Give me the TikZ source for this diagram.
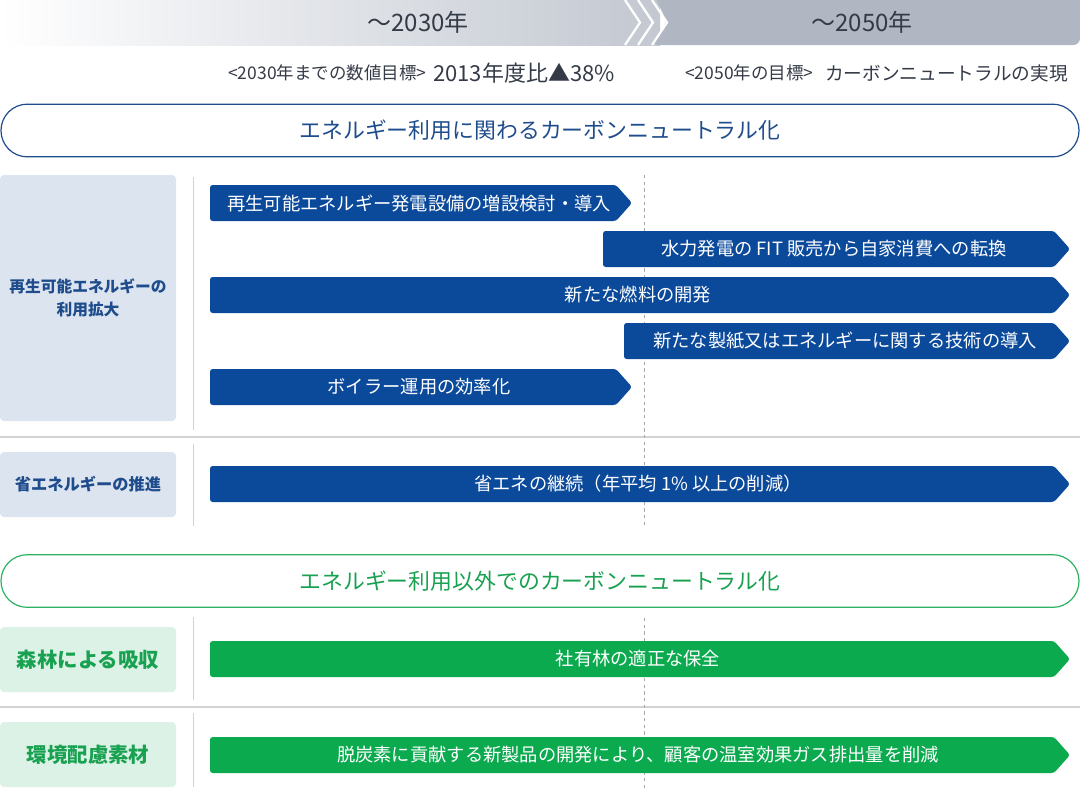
\documentclass[tikz,border=0pt]{standalone}
\usepackage{fontspec}
\setmainfont{Noto Sans CJK JP}
\usepackage{xcolor}
\usepackage{tikz}
\usetikzlibrary{positioning}

\definecolor{bandL}{HTML}{C3C8D1}
\definecolor{bandR}{HTML}{B1B7C2}
\definecolor{headtxt}{HTML}{343B47}
\definecolor{navy}{HTML}{0B4A9B}
\definecolor{navytxt}{HTML}{1E4C8C}
\definecolor{navybg}{HTML}{DCE4EF}
\definecolor{leaf}{HTML}{0BAA4F}
\definecolor{leaftxt}{HTML}{18A150}
\definecolor{leafline}{HTML}{2DB263}
\definecolor{leafbg}{HTML}{DDF2E6}
\definecolor{rule}{HTML}{D2D2D2}

\begin{document}
\begin{tikzpicture}[x=0.75pt, y=-0.75pt,
    barlabel/.style={text=white, inner sep=0pt, font=\fontsize{13.7}{16}\selectfont},
    pill/.style={minimum width=808.5pt, minimum height=39.5pt, rounded corners=19.7pt,
        line width=0.9pt, font=\fontsize{16.4}{19}\selectfont},
    goal/.style={text=headtxt, inner sep=0pt, font=\fontsize{13.1}{15}\selectfont},
    catbox/.style={minimum width=132pt, rounded corners=3pt, inner sep=0pt, align=center}]
    \useasboundingbox (0,0) rectangle (1080,790);

    % Time band
    \shade[left color=white, right color=bandL] (0,0) rectangle (660,45);
    \fill[bandR, rounded corners=5pt] (652,-10) -- (667,22.5) -- (652,45) -- (1080,45) -- (1080,-10) -- cycle;
    \foreach \cx in {625,638,652}
        \draw[white, line width=1.7pt] (\cx,0) -- (\cx+15,22.5) -- (\cx,45);
    \node[text=headtxt, font=\fontsize{18}{21}\selectfont] (to2030) at (418,22) {～2030年};
    \node[text=headtxt, font=\fontsize{18}{21}\selectfont] (to2050) at (862,22) {～2050年};

    % Goals
    \node[goal, anchor=west] (aim30) at (228,73) {<2030年までの数値目標>};
    \node[goal, anchor=west, font=\fontsize{16.5}{19}\selectfont] (cut30) at (433,73) {2013年度比▲38\%};
    \node[goal, anchor=west] (aim50) at (685,73) {<2050年の目標>};
    \node[goal, anchor=east, font=\fontsize{14}{17}\selectfont] (cut50) at (1068,73) {カーボンニュートラルの実現};

    % Energy use
    \node[pill, draw=navytxt, text=navytxt] (secuse) at (540,130.5) {エネルギー利用に関わるカーボンニュートラル化};
    \node[catbox, fill=navybg, text=navytxt, minimum height=184.5pt, font=\bfseries\fontsize{11.8}{17}\selectfont]
        (renewcat) at (88,298) {再生可能エネルギーの\\利用拡大};
    \node[catbox, fill=navybg, text=navytxt, minimum height=48.75pt, font=\bfseries\fontsize{12.2}{15}\selectfont]
        (savecat) at (88,484.5) {省エネルギーの推進};
    \draw[rule] (193,177) -- (193,430);
    \draw[rule] (193,444) -- (193,526);
    \draw[rule, line width=1.5pt] (0,437) -- (1080,437);
    \draw[rule!80!black, dash pattern=on 2.5pt off 2.5pt] (644,175) -- (644,526);

    \fill[navy, rounded corners=2pt] (210,185) -- (616,185) -- (632,203) -- (616,221) -- (210,221) -- cycle;
    \node[barlabel] (plant) at (419,203) {再生可能エネルギー発電設備の増設検討・導入};
    \fill[navy, rounded corners=2pt] (603,231) -- (1054,231) -- (1070,249) -- (1054,267) -- (603,267) -- cycle;
    \node[barlabel] (hydro) at (834,249) {水力発電の FIT 販売から自家消費への転換};
    \fill[navy, rounded corners=2pt] (210,277) -- (1054,277) -- (1070,295) -- (1054,313) -- (210,313) -- cycle;
    \node[barlabel] (fuel) at (638,295) {新たな燃料の開発};
    \fill[navy, rounded corners=2pt] (624,323) -- (1054,323) -- (1070,341) -- (1054,359) -- (624,359) -- cycle;
    \node[barlabel] (paper) at (845,341) {新たな製紙又はエネルギーに関する技術の導入};
    \fill[navy, rounded corners=2pt] (210,369) -- (616,369) -- (632,387) -- (616,405) -- (210,405) -- cycle;
    \node[barlabel] (boiler) at (419,387) {ボイラー運用の効率化};
    \fill[navy, rounded corners=2pt] (210,466) -- (1054,466) -- (1070,484) -- (1054,502) -- (210,502) -- cycle;
    \node[barlabel] (keep) at (638,484) {省エネの継続（年平均 1\% 以上の削減）};

    % Other than energy use
    \node[pill, draw=leafline, text=leaftxt] (secother) at (540,581) {エネルギー利用以外でのカーボンニュートラル化};
    \node[catbox, fill=leafbg, text=leaftxt, minimum height=48.75pt, font=\bfseries\fontsize{15.3}{18}\selectfont]
        (forestcat) at (88,659.5) {森林による吸収};
    \node[catbox, fill=leafbg, text=leaftxt, minimum height=48.75pt, font=\bfseries\fontsize{15.3}{18}\selectfont]
        (ecocat) at (88,754.5) {環境配慮素材};
    \draw[rule] (193,617) -- (193,700);
    \draw[rule] (193,713) -- (193,787);
    \draw[rule, line width=1.5pt] (0,707) -- (1080,707);
    \draw[rule!80!black, dash pattern=on 2.5pt off 2.5pt] (644,618) -- (644,790);

    \fill[leaf, rounded corners=2pt] (210,641) -- (1054,641) -- (1070,659) -- (1054,677) -- (210,677) -- cycle;
    \node[barlabel] (forest) at (638,659) {社有林の適正な保全};
    \fill[leaf, rounded corners=2pt] (210,737) -- (1054,737) -- (1070,755) -- (1054,773) -- (210,773) -- cycle;
    \node[barlabel] (product) at (638,755) {脱炭素に貢献する新製品の開発により、顧客の温室効果ガス排出量を削減};
\end{tikzpicture}
\end{document}
